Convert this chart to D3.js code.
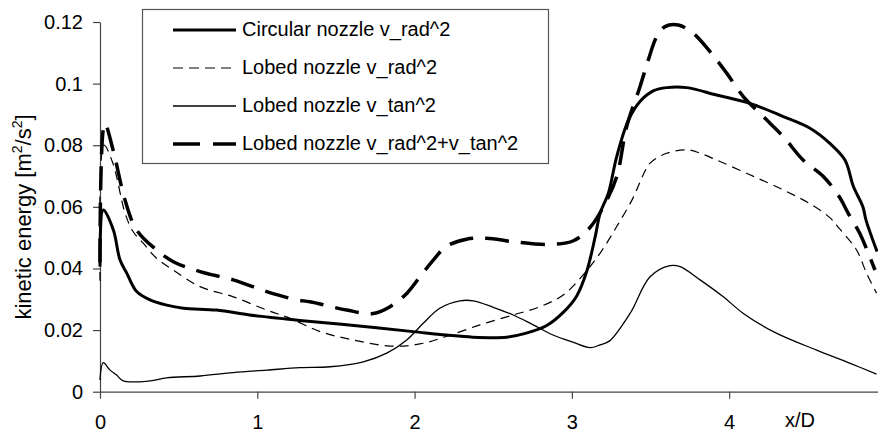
<!DOCTYPE html>
<html><head><meta charset="utf-8">
<script src="https://cdn.jsdelivr.net/npm/d3@7"></script>
<style>
body{margin:0;background:#fff;}
text{font-family:"Liberation Sans",Arial,sans-serif;fill:#000;}
</style></head>
<body><svg id="c" width="878" height="432"></svg>
<script>
// ---- data ----
const xCirc = [0,0.021,0.085,0.127,0.17,0.233,0.318,0.424,0.53,0.74,0.95,1.144,1.27,1.568,1.99,2.2,2.37,2.585,2.71,2.84,2.95,3.03,3.094,3.147,3.18,3.232,3.285,3.36,3.433,3.52,3.603,3.73,3.92,4.132,4.344,4.514,4.64,4.736,4.79,4.85,4.87,4.94];
const yCirc = [0.0406,0.059,0.0525,0.0428,0.0385,0.0325,0.0298,0.0281,0.0271,0.0265,0.0249,0.0238,0.0231,0.0217,0.0195,0.0184,0.0177,0.0177,0.019,0.0215,0.026,0.031,0.039,0.050,0.058,0.0644,0.0763,0.0882,0.0942,0.0977,0.0987,0.0987,0.0963,0.0936,0.0893,0.0855,0.0806,0.0752,0.0666,0.060,0.0557,0.0455];

const xRad = [0,0.025,0.083,0.159,0.21,0.275,0.36,0.466,0.636,0.847,1.06,1.208,1.4,1.61,1.844,2.034,2.2,2.416,2.627,2.797,2.945,3.073,3.18,3.285,3.39,3.45,3.497,3.603,3.73,3.79,3.92,4.132,4.344,4.514,4.64,4.7,4.81,4.874,4.937];
const yRad = [0.036,0.080,0.074,0.058,0.052,0.0482,0.0433,0.0395,0.0341,0.0308,0.0265,0.0238,0.0195,0.0168,0.0148,0.0155,0.0179,0.0217,0.0249,0.0276,0.0314,0.038,0.045,0.0536,0.063,0.070,0.0742,0.0774,0.0785,0.0779,0.0752,0.0704,0.0655,0.061,0.0565,0.053,0.046,0.0384,0.032];

const xTan = [0,0.021,0.064,0.106,0.148,0.318,0.424,0.636,0.847,1.06,1.27,1.462,1.674,1.823,1.95,2.055,2.16,2.289,2.373,2.5,2.627,2.754,2.88,3.01,3.115,3.18,3.24,3.37,3.497,3.624,3.688,3.815,3.963,4.09,4.3,4.556,4.77,4.937];
const yTan = [0.0038,0.0094,0.007,0.0054,0.0035,0.0035,0.0045,0.0051,0.0062,0.007,0.0078,0.0081,0.0097,0.0125,0.0168,0.0222,0.0271,0.0295,0.0295,0.0274,0.0249,0.0217,0.0184,0.016,0.0143,0.0152,0.0165,0.0254,0.0373,0.0409,0.0406,0.0363,0.0308,0.0254,0.019,0.0135,0.0092,0.0057];

const xSum = [0,0.03,0.083,0.159,0.233,0.36,0.466,0.636,0.847,1.06,1.25,1.335,1.568,1.738,1.844,1.95,2.034,2.12,2.2,2.33,2.457,2.627,2.84,3.01,3.115,3.2,3.285,3.348,3.433,3.486,3.54,3.592,3.677,3.77,3.878,3.984,4.09,4.217,4.344,4.47,4.6,4.7,4.757,4.83,4.927];
const ySum = [0.042,0.087,0.0785,0.0622,0.0525,0.046,0.0422,0.039,0.0363,0.0325,0.0298,0.0292,0.0265,0.0254,0.0276,0.0319,0.0373,0.0428,0.0471,0.0495,0.0498,0.0487,0.0478,0.049,0.0533,0.06,0.0698,0.086,0.099,0.1077,0.1153,0.1185,0.119,0.1164,0.1104,0.1034,0.0958,0.0893,0.0828,0.0752,0.0698,0.0633,0.0579,0.0514,0.0395];

const seriesNames = ["Circular nozzle v_rad^2","Lobed nozzle v_rad^2","Lobed nozzle v_tan^2","Lobed nozzle v_rad^2+v_tan^2"];
const xTicks = [0,1,2,3,4];
const yTicks = [0,0.02,0.04,0.06,0.08,0.1,0.12];
const yTickLabels = ["0","0.02","0.04","0.06","0.08","0.1","0.12"];

// ---- chart ----
const svg = d3.select("#c");
const mLeft = 100, mRight = 878.6, mTop = 22, mBottom = 391.7;
const x = d3.scaleLinear().domain([0,4.95]).range([mLeft,mRight]);
const y = d3.scaleLinear().domain([0,0.12]).range([mBottom,mTop]);

const styles = [
  {w:3, dash:null},
  {w:1.2, dash:"9,6"},
  {w:1.3, dash:null},
  {w:3.5, dash:"24,12"}
];
const data = [
  d3.zip(xCirc,yCirc), d3.zip(xRad,yRad), d3.zip(xTan,yTan), d3.zip(xSum,ySum)
];

// axes
const yAxis = svg.append("g").attr("transform",`translate(${mLeft},0)`)
  .call(d3.axisLeft(y).tickValues(yTicks).tickFormat((d,i)=>yTickLabels[i]).tickSize(7).tickPadding(10).tickSizeOuter(0));
const xAxis = svg.append("g").attr("transform",`translate(0,${mBottom})`)
  .call(d3.axisBottom(x).tickValues(xTicks).tickFormat(d3.format("d")).tickSize(7).tickPadding(16).tickSizeOuter(0));
[yAxis,xAxis].forEach(g=>{
  g.select(".domain").attr("stroke","#444").attr("stroke-width",1.2);
  g.selectAll(".tick line").attr("stroke","#444").attr("stroke-width",1.2);
  g.selectAll(".tick text").attr("font-size",20).attr("font-family","Liberation Sans, Arial, sans-serif").attr("fill","#000");
});

svg.append("text").attr("x",785).attr("y",427).attr("font-size",20).text("x/D");

const yl = svg.append("text").attr("transform","translate(31,217) rotate(-90)").attr("text-anchor","middle").attr("font-size",22);
yl.append("tspan").text("kinetic energy [m");
yl.append("tspan").attr("font-size",14).attr("dy",-9).text("2");
yl.append("tspan").attr("dy",9).text("/s");
yl.append("tspan").attr("font-size",14).attr("dy",-9).text("2");
yl.append("tspan").attr("dy",9).text("]");

// lines
const line = d3.line().x(d=>x(d[0])).y(d=>y(d[1])).curve(d3.curveCatmullRom.alpha(0.5));
data.forEach((s,i)=>{
  svg.append("path").attr("d",line(s)).attr("fill","none").attr("stroke","#000")
    .attr("stroke-width",styles[i].w).attr("stroke-dasharray",styles[i].dash)
    .attr("stroke-linejoin","round");
});

// legend
const lg = svg.append("g");
lg.append("rect").attr("x",142.5).attr("y",9.5).attr("width",406).attr("height",154)
  .attr("fill","#fff").attr("stroke","#555").attr("stroke-width",1.2);
seriesNames.forEach((n,i)=>{
  const yy = 30 + i*38;
  lg.append("line").attr("x1",173).attr("x2",236).attr("y1",yy).attr("y2",yy)
    .attr("stroke","#000").attr("stroke-width",styles[i].w).attr("stroke-dasharray",i===3?"27,13":(i===1?"10,6":null));
  lg.append("text").attr("x",242).attr("y",yy+6).attr("font-size",20).text(n);
});
</script></body></html>
